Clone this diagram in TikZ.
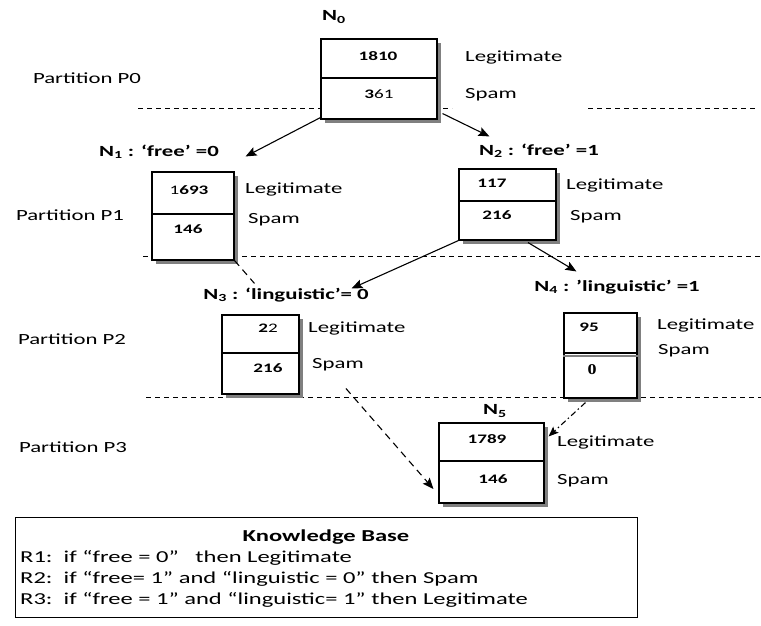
\documentclass[tikz,border=0pt]{standalone}
\usepackage{fontspec}
\setmainfont{Carlito}[FakeStretch=1.47]
\newfontfamily\timesfont{Liberation Serif}[FakeStretch=1.2]
\usetikzlibrary{arrows.meta,calc}
\definecolor{shadowgray}{RGB}{128,128,128}
\begin{document}
\begin{tikzpicture}[x=1pt,y=-1pt,
  box/.style={draw, line width=1.1pt, fill=white, inner sep=0pt},
  shadowline/.style={draw=shadowgray, line width=3.5pt, line cap=butt, line join=miter},
  num/.style={font=\fontsize{13}{15}\selectfont\bfseries, inner sep=0pt},
  side/.style={font=\fontsize{15.5}{18}\selectfont, anchor=west, inner sep=0pt},
  kbtext/.style={font=\fontsize{16.7}{20}\selectfont, anchor=west, inner sep=0pt},
  lab/.style={font=\fontsize{15.5}{18}\selectfont\bfseries, inner sep=0pt},
  part/.style={font=\fontsize{15.5}{18}\selectfont, inner sep=0pt},
  partline/.style={line width=0.9pt, dash pattern=on 5pt off 4pt},
  divline/.style={line width=1.1pt},
  arr/.style={line width=1.1pt, -{Stealth[length=11pt,width=9pt,inset=2pt]}},
  dasharr/.style={line width=1.1pt, dash pattern=on 7pt off 5pt},
  dotarr/.style={line width=1.1pt, dash pattern=on 6pt off 3pt on 1.5pt off 3pt},
]
\useasboundingbox (0,0) rectangle (761,626);

% partition labels
\node[part] (p0) at (87,78) {Partition P0};
\node[part] (p1) at (70,215) {Partition P1};
\node[part] (p2) at (72,339) {Partition P2};
\node[part] (p3) at (73,447) {Partition P3};

% partition lines
\draw[partline] (138,108) -- (321,108);
\draw[partline] (443,108) -- (452,108);
\draw[partline] (588,108) -- (757,108);
\draw[partline] (143,256) -- (761,256);
\draw[partline] (146,397) -- (761,397);

% shadows (drawn first, offset behind the boxes)
\fill[shadowgray] (325,43) rectangle (441,123);
\fill[shadowgray] (156,176) rectangle (238,264);
\fill[shadowgray] (463,173) rectangle (560,244);
\fill[shadowgray] (226,319) rectangle (303,398);
\fill[shadowgray] (568,317) rectangle (641,402);
\fill[shadowgray] (443,427) rectangle (548,507);

% boxes
\node[box, minimum width=116pt, minimum height=80pt] (n0) at (379,79) {};
\node[box, minimum width=82pt, minimum height=88pt] (n1) at (193,216) {};
\node[box, minimum width=97pt, minimum height=71pt] (n2) at (507.5,204.5) {};
\node[box, minimum width=77pt, minimum height=79pt] (n3) at (260.5,354.5) {};
\node[box, minimum width=73pt, minimum height=85pt] (n4) at (600.5,355.5) {};
\node[box, minimum width=105pt, minimum height=80pt] (n5) at (491.5,463) {};

% dividers
\draw[divline] (n0.west |- 0,78) -- (n0.east |- 0,78);
\draw[divline] (n1.west |- 0,214) -- (n1.east |- 0,214);
\draw[divline] (n2.west |- 0,201) -- (n2.east |- 0,201);
\draw[divline] (n3.west |- 0,353) -- (n3.east |- 0,353);
\draw[divline] (n4.west |- 0,353) -- (n4.east |- 0,353);
\draw[line width=1.1pt, shadowgray] (n4.west |- 0,356) -- (n4.east |- 0,356);
\draw[divline] (n5.west |- 0,461) -- (n5.east |- 0,461);

% numbers
\node[num] (n0a) at (378,56) {1810};
\node[num] (n0b) at (379,94) {3{\mdseries 61}};
\node[num] (n1a) at (189,190) {{\mdseries 1}693};
\node[num] (n1b) at (188,229) {146};
\node[num] (n2a) at (492,183) {117};
\node[num] (n2b) at (497,215) {216};
\node[num] (n3a) at (268,328) {2{\mdseries 2}};
\node[num] (n3b) at (268,368) {216};
\node[num] (n4a) at (589,327) {95};
\node[num] (n4b) at (592,370) {\timesfont\fontsize{15}{17}\selectfont\bfseries 0};
\node[num] (n5a) at (487,439) {1789};
\node[num] (n5b) at (493,479) {146};

% side texts
\node[side] (n0l) at (465,57) {Legitimate};
\node[side] (n0s) at (465,95) {Spam};
\node[side] (n1l) at (245,189) {Legitimate};
\node[side] (n1s) at (248,220) {Spam};
\node[side] (n2l) at (566,185) {Legitimate};
\node[side] (n2s) at (570,217) {Spam};
\node[side] (n3l) at (308,328) {Legitimate};
\node[side] (n3s) at (312,365) {Spam};
\node[side] (n4l) at (657,325) {Legitimate};
\node[side] (n4s) at (658,351) {Spam};
\node[side] (n5l) at (557,442) {Legitimate};
\node[side] (n5s) at (557,481) {Spam};

% node labels
\node[lab] (l0) at (334,17) {N\textsubscript{0}};
\node[lab] (l1) at (159,152) {N\textsubscript{1} : ‘free’ =0};
\node[lab] (l2) at (539,151) {N\textsubscript{2} : ‘free’ =1};
\node[lab] (l3) at (286,295) {N\textsubscript{3} : ‘linguistic’= 0};
\node[lab] (l4) at (617,287) {N\textsubscript{4} : ’linguistic’ =1};
\node[lab] (l5) at (495,411) {N\textsubscript{5}};

% connectors
\draw[arr] ([shift={(0,-2)}]n0.south west) -- ([shift={(11,-15)}]n1.north east);
\draw[arr] ([shift={(5,-6)}]n0.south east) -- ([shift={(31,-32)}]n2.north west);
\draw[arr] (n2.south west) -- ([shift={(52,-26)}]n3.north east);
\draw[arr] ([shift={(20.5,2)}]n2.south) -- ([shift={(13,-41)}]n4.north west);

\coordinate (n5in) at ([shift={(-5,26)}]n5.west);
\coordinate (d1) at ($(n1.south east)!0.10!(n5in)$);
\coordinate (d2) at ($(n1.south east)!0.56!(n5in)$);
\draw[dasharr] (n1.south east) -- (d1);
\draw[dasharr, -{Stealth[length=11pt,width=9pt,inset=2pt]}] (d2) -- (n5in);

\coordinate (n5rt) at ([shift={(4,14)}]n5.north east);
\draw[dotarr, -{Stealth[length=10pt,width=8pt,inset=2pt]}] ([shift={(-15,4)}]n4.south) -- (n5rt);

% knowledge base
\node[draw, line width=0.9pt, minimum width=622pt, minimum height=100pt, inner sep=0pt] (kb) at (326,567) {};
\node[lab, font=\fontsize{16.7}{20}\selectfont\bfseries] (kbt) at (326,537) {Knowledge Base};
\node[kbtext] (r1) at (20,558) {R1:\ \ if “free = 0”\ \ \ then Legitimate};
\node[kbtext] (r2) at (20,579) {R2:\ \ if “free= 1” and “linguistic = 0” then Spam};
\node[kbtext] (r3) at (20,600) {R3:\ \ if “free = 1” and “linguistic= 1” then Legitimate};
\end{tikzpicture}
\end{document}
